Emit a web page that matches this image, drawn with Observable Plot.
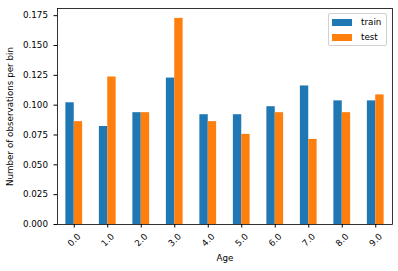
<!DOCTYPE html>
<html><head><meta charset="utf-8">
<script src="https://cdn.jsdelivr.net/npm/d3@7"></script>
<script src="https://cdn.jsdelivr.net/npm/@observablehq/plot@0.6"></script>
<style>
body{margin:0;background:#fff;}
#wrap{position:relative;width:398px;height:271px;font-family:"DejaVu Sans";}
#legend{position:absolute;left:328px;top:13px;width:57px;height:31px;border:1px solid #d0d0d0;border-radius:2px;background:rgba(255,255,255,0.8);font-size:8.75px;color:#000;}
.item{position:absolute;left:3px;height:10px;display:flex;align-items:center;}
.sw{width:20px;height:7px;margin-right:9px;}
</style></head>
<body><div id="wrap"><div id="legend"></div></div>
<script>
const categories = ["0.0","1.0","2.0","3.0","4.0","5.0","6.0","7.0","8.0","9.0"];
const series = ["train","test"];
const colors = ["#1f77b4","#ff7f0e"];
const train = [0.1020,0.0821,0.0937,0.1227,0.0920,0.0920,0.0987,0.1161,0.1036,0.1036];
const test  = [0.0862,0.1236,0.0937,0.1727,0.0862,0.0755,0.0937,0.0713,0.0937,0.1086];
const yTicks = [0,0.025,0.05,0.075,0.1,0.125,0.15,0.175];

// pandas-style grouped bars: group width 0.5 centred on each category index
const barWidth = 0.25;
const data = categories.flatMap((c,i)=>[
  {i,age:c,set:"train",k:0,value:train[i]},
  {i,age:c,set:"test",k:1,value:test[i]}
]);

const chart = Plot.plot({
  width:398,height:271,marginLeft:57,marginRight:6,marginTop:8,marginBottom:47,
  style:{fontFamily:"DejaVu Sans",fontSize:"8.75px",color:"black",background:"white"},
  x:{domain:[-0.5,categories.length-0.5]},
  y:{domain:[0,0.181]},
  color:{domain:series,range:colors},
  marks:[
    Plot.rectY(data,{x1:d=>d.i-barWidth+d.k*barWidth,x2:d=>d.i+d.k*barWidth,y:"value",fill:"set"}),
    Plot.axisY({ticks:yTicks,tickFormat:".3f",tickSize:3.5,tickPadding:6,label:"Number of observations per bin",labelArrow:"none",labelAnchor:"center",labelOffset:51}),
    Plot.axisX({ticks:d3.range(categories.length),tickFormat:i=>categories[i],tickRotate:-45,textAnchor:"middle",lineAnchor:"middle",tickSize:3.5,tickPadding:12,label:"Age",labelArrow:"none",labelAnchor:"center",labelOffset:36}),
    Plot.frame({stroke:"black",strokeWidth:0.8})
  ]
});
document.getElementById("wrap").prepend(chart);
const lg = document.getElementById("legend");
series.forEach((s,i)=>{
  const it=document.createElement("div");it.className="item";it.style.top=(3+i*15)+"px";
  it.innerHTML=`<div class="sw" style="background:${colors[i]}"></div><span>${s}</span>`;
  lg.appendChild(it);
});
</script></body></html>
